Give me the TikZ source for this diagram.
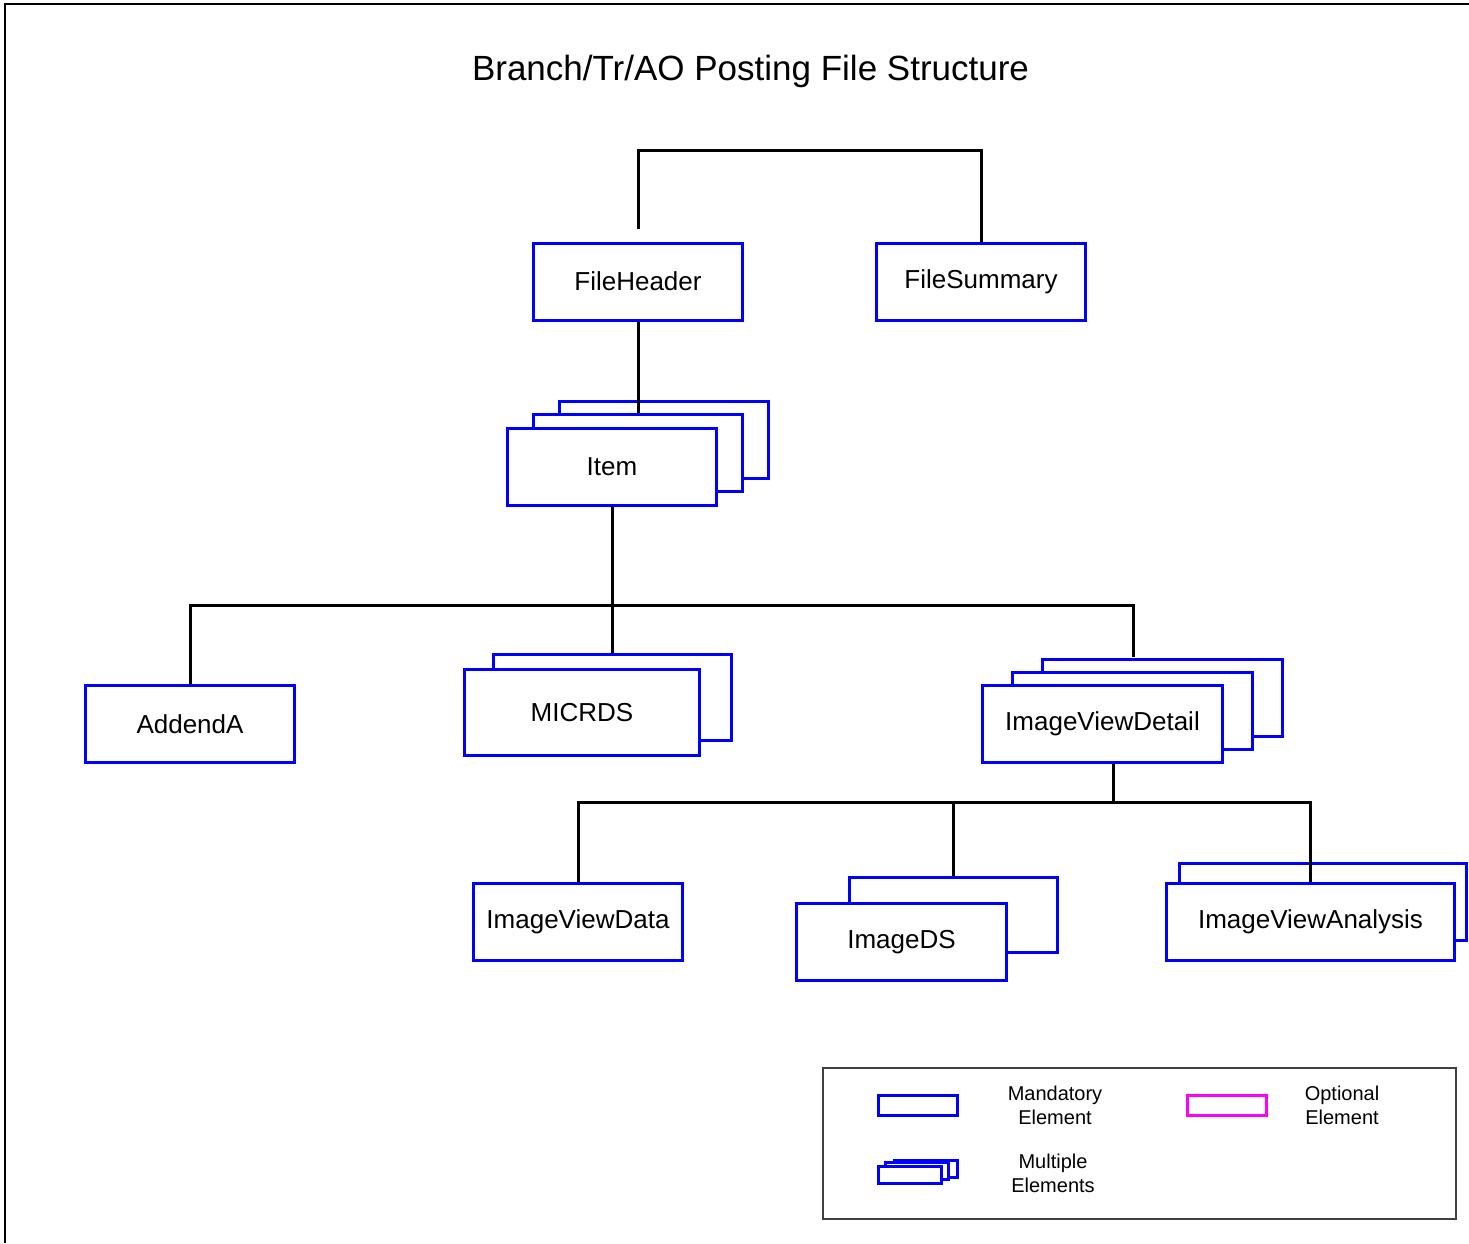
\documentclass[tikz,border=0pt]{standalone}
\usepackage{fontspec}
\setmainfont{Liberation Sans}
\definecolor{pmag}{RGB}{255,0,255}
\definecolor{pblue}{RGB}{0,0,255}
\begin{document}
\begin{tikzpicture}[x=1pt,y=-1pt,
  box/.style={draw=pblue, line width=3pt, fill=white, inner sep=0pt,
    minimum width=209pt, minimum height=77pt, font=\fontsize{26}{30}\selectfont},
  conn/.style={line width=3pt, draw=black},
  legtext/.style={font=\fontsize{20}{24}\selectfont, align=center, inner sep=0pt},
  legbox/.style={line width=3pt, inner sep=0pt, fill=white}]
\useasboundingbox (0,0) rectangle (1469,1243);
% frame
\draw[line width=1.5pt] (5,1243) -- (5,4) -- (1469,4);
% title
\node[font=\fontsize{35}{40}\selectfont, inner sep=0pt] (title) at (750.5,71) {Branch/Tr/AO Posting File Structure};

% top level
\node[box] (fh) at (638,281.5) {FileHeader};
\node[box] (fs) at (981,281.5) {FileSummary};

% Item stack
\node[box] (item3) at (663.5,440) {};
\node[box] (item2) at (638,453) {};
\node[box] (item) at (612,466.5) {Item};

% second level
\node[box] (addenda) at (190,724) {AddendA};
\node[box, minimum width=238pt, minimum height=86pt] (micback) at (612,697.5) {};
\node[box, minimum width=235pt, minimum height=86pt] (micrds) at (582,712.5) {MICRDS};
\node[box, minimum width=240pt] (ivd3) at (1162.5,697.5) {};
\node[box, minimum width=240pt] (ivd2) at (1132.5,710.5) {};
\node[box, minimum width=240pt] (ivd) at (1102.5,724) {ImageViewDetail};

% third level
\node[box] (ivdata) at (578,922) {ImageViewData};
\node[box, minimum width=208pt, minimum height=75pt] (idsback) at (953.5,915) {};
\node[box, minimum width=210pt] (ids) at (901.5,942) {ImageDS};
\node[box, minimum width=287pt] (ivaback) at (1323,902) {};
\node[box, minimum width=288pt] (iva) at (1310.5,922) {ImageViewAnalysis};

% connectors
\coordinate (fhtop) at (638,229);
\coordinate (bar0) at (0,150);
\coordinate (bar1) at (0,605);
\coordinate (bar2) at (0,802);
\coordinate (ivdout) at (1113,764);
\coordinate (ivdin) at (1133,657);
\draw[conn] (fhtop) -- (fhtop |- bar0) -- (fs.north |- bar0) -- (fs.north);
\draw[conn] (fh.south) -- (item2.north);
\draw[conn] (item.south) -- (item.south |- bar1);
\draw[conn] (addenda.north) -- (addenda.north |- bar1) -- (ivdin |- bar1) -- (ivdin);
\draw[conn] (micback.north) -- (micback.north |- bar1);
\draw[conn] (ivdout) -- (ivdout |- bar2);
\draw[conn] (ivdata.north) -- (ivdata.north |- bar2) -- (iva.north |- bar2) -- (iva.north);
\draw[conn] (idsback.north) -- (idsback.north |- bar2);

% legend
\node[draw=black!75, line width=1.5pt, minimum width=633pt, minimum height=151pt, inner sep=0pt] (legend) at (1139.5,1143.5) {};
\node[legbox, draw=pblue, minimum width=79pt, minimum height=20pt] (lmand) at (917.5,1105) {};
\node[legtext] (tmand) at (1055,1105) {Mandatory\\Element};
\node[legbox, draw=pmag, minimum width=79pt, minimum height=20pt] (lopt) at (1226.5,1105) {};
\node[legtext] (topt) at (1342,1105) {Optional\\Element};
\node[legbox, draw=pblue, minimum width=63pt, minimum height=17pt] (lmul3) at (925.5,1168.5) {};
\node[legbox, draw=pblue, minimum width=63pt, minimum height=17pt] (lmul2) at (917,1171) {};
\node[legbox, draw=pblue, minimum width=63pt, minimum height=17pt] (lmul) at (909.5,1174.5) {};
\node[legtext] (tmul) at (1053,1173) {Multiple\\Elements};
\end{tikzpicture}
\end{document}
